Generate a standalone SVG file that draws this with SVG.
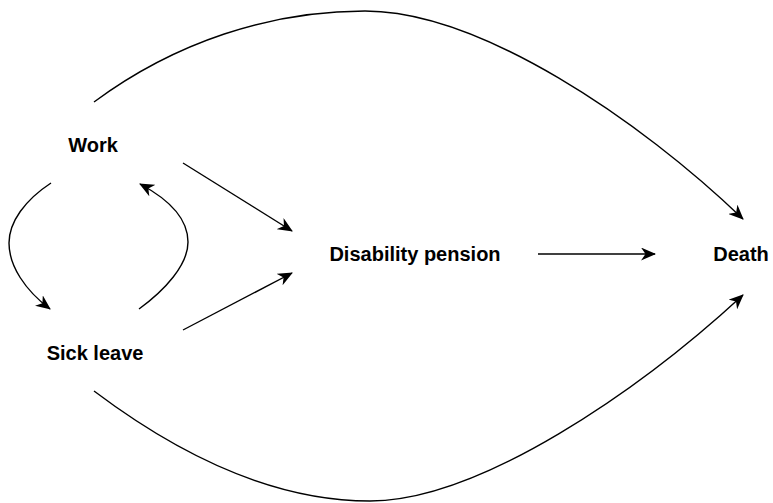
<svg xmlns="http://www.w3.org/2000/svg" width="773" height="503" viewBox="0 0 773 503">
  <style>
    .lbl { font-family: "Liberation Sans", Arial, Helvetica, sans-serif; font-weight: bold; font-size: 20px; fill: #000; text-anchor: middle; }
    .edge { fill: none; stroke: #000; stroke-width: 1.4; marker-end: url(#arrow); }
  </style>
  <defs>
    <marker id="arrow" markerUnits="userSpaceOnUse" viewBox="0 0 15 13" markerWidth="15" markerHeight="13" refX="14" refY="6.5" orient="auto">
      <path d="M0,0 L15,6.5 L0,13 L4.5,6.5 Z" fill="#000"/>
    </marker>
  </defs>
  <rect width="773" height="503" fill="#fff"/>
  <g id="connectors">
    <path class="edge" d="M94,102 C175,42 270,11 365,11 C480,11 640,120 743,219"/>
    <path class="edge" d="M94,391 C175,452 270,501 370,501 C480,501 640,390 743,295"/>
    <path class="edge" d="M51,183 C25,200 9,222 9,243 C9,266 25,290 50,309"/>
    <path class="edge" d="M139,309 C165,290 188,265 188,242 C188,220 170,200 140,184"/>
    <path class="edge" d="M183,163 L292,231"/>
    <path class="edge" d="M183,330 L292,273"/>
    <path class="edge" d="M538,254 L655,254"/>
  </g>
  <g id="work"><text class="lbl" x="93" y="152">Work</text></g>
  <g id="sick-leave"><text class="lbl" x="95" y="360">Sick leave</text></g>
  <g id="disability-pension"><text class="lbl" x="415" y="261">Disability pension</text></g>
  <g id="death"><text class="lbl" x="741" y="261">Death</text></g>
</svg>
